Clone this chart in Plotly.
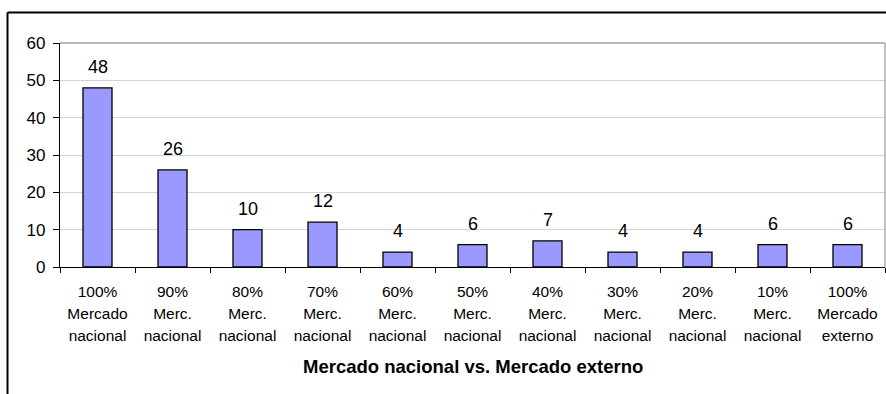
import plotly.graph_objects as go

categories = ["100% Mercado nacional", "90% Merc. nacional", "80% Merc. nacional",
              "70% Merc. nacional", "60% Merc. nacional", "50% Merc. nacional",
              "40% Merc. nacional", "30% Merc. nacional", "20% Merc. nacional",
              "10% Merc. nacional", "100% Mercado externo"]
values = [48, 26, 10, 12, 4, 6, 7, 4, 4, 6, 6]
label_line1 = ["100%", "90%", "80%", "70%", "60%", "50%", "40%", "30%", "20%", "10%", "100%"]
label_line2 = ["Mercado", "Merc.", "Merc.", "Merc.", "Merc.", "Merc.", "Merc.", "Merc.", "Merc.", "Merc.", "Mercado"]
label_line3 = ["nacional"] * 10 + ["externo"]
y_ticks = [0, 10, 20, 30, 40, 50, 60]
x_title = "Mercado nacional vs. Mercado externo"

FONT = "Liberation Sans, Arial, sans-serif"
n = len(categories)
idx = list(range(n))

fig = go.Figure()
fig.add_trace(go.Bar(
    x=categories, y=values,
    marker=dict(color="#9999FF", line=dict(color="black", width=1.3)),
    hoverinfo="x+y",
))

for c, v in zip(categories, values):
    fig.add_annotation(x=c, y=v, xref="x", yref="y", text=str(v), showarrow=False,
                       yanchor="bottom", yshift=9, font=dict(family=FONT, size=18, color="black"))

fig.add_annotation(x=0.5, y=-0.446, xref="paper", yref="paper", text="<b>" + x_title + "</b>",
                   showarrow=False, yanchor="middle", xanchor="center",
                   font=dict(family=FONT, size=18.5, color="black"))

tickfont = dict(family=FONT, size=15.5, color="black")
common_overlay = dict(overlaying="x", anchor="y", type="linear", range=[-0.5, n - 0.5],
                      tickmode="array", tickvals=idx, showline=False, showgrid=False,
                      zeroline=False, ticks="", tickfont=tickfont, fixedrange=True)

fig.update_layout(
    width=886, height=394,
    margin=dict(l=60, r=1, t=43, b=127),
    paper_bgcolor="white", plot_bgcolor="white",
    showlegend=False,
    bargap=0.613,
    xaxis=dict(type="category", categoryarray=categories, tickson="boundaries",
               ticks="outside", ticklen=5, tickcolor="black", tickwidth=1,
               showline=True, linecolor="black", linewidth=1.3,
               tickmode="array", tickvals=categories, ticktext=label_line1,
               tickfont=tickfont, showgrid=False, zeroline=False,
               ticklabelstandoff=10),
    xaxis2=dict(ticktext=label_line2, ticklabelstandoff=35, **common_overlay),
    xaxis3=dict(ticktext=label_line3, ticklabelstandoff=57, **common_overlay),
    yaxis=dict(range=[0, 60], tickmode="array", tickvals=y_ticks,
               ticks="outside", ticklen=6, tickcolor="black", tickwidth=1,
               showline=True, linecolor="black", linewidth=1.3,
               showgrid=True, gridcolor="#d4d4d4", gridwidth=1,
               zeroline=False, tickfont=dict(family=FONT, size=17, color="black"),
               ticklabelstandoff=4),
)

# dummy invisible traces so overlay axes render
fig.add_trace(go.Scatter(x=[0], y=[0], xaxis="x2", mode="markers", marker=dict(opacity=0), hoverinfo="skip"))
fig.add_trace(go.Scatter(x=[0], y=[0], xaxis="x3", mode="markers", marker=dict(opacity=0), hoverinfo="skip"))

# plot-area top and right edges (gray) and outer chart border (black)
fig.add_shape(type="line", xref="paper", yref="paper", x0=0, x1=1, y0=1, y1=1,
              line=dict(color="#a0a0a0", width=1.3))
fig.add_shape(type="line", xref="paper", yref="paper", x0=1, x1=1, y0=0, y1=1,
              line=dict(color="#a0a0a0", width=1.3))
fig.add_shape(type="line", xref="paper", yref="paper", x0=(7.5 - 60) / 825, x1=1.01,
              y0=(267 - 12.5) / 224, y1=(267 - 12.5) / 224, line=dict(color="black", width=2))
fig.add_shape(type="line", xref="paper", yref="paper", x0=(7.5 - 60) / 825, x1=(7.5 - 60) / 825,
              y0=(267 - 12.5) / 224, y1=-0.7, line=dict(color="black", width=2))

fig.write_html("out.html")
